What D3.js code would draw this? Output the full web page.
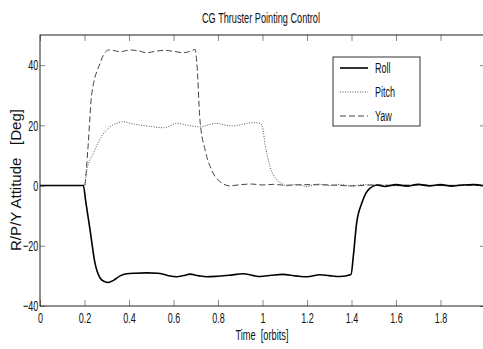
<!DOCTYPE html>
<html>
<head>
<meta charset="utf-8">
<script src="https://cdn.jsdelivr.net/npm/d3@7"></script>
<style>
  body { margin: 0; background: #fff; }
  text { font-family: "Liberation Sans", Arial, sans-serif; }
</style>
</head>
<body>
<svg id="chart"></svg>
<script>
// values (time in orbits, attitude in deg)
const rollT = [0, 0.195, 0.205, 0.225, 0.247, 0.27, 0.29, 0.306, 0.33, 0.36, 0.39, 0.427, 0.48, 0.53, 0.57, 0.615, 0.645, 0.674, 0.71, 0.75, 0.8, 0.85, 0.913, 0.96, 0.989, 1.04, 1.09, 1.15, 1.2, 1.258, 1.3, 1.348, 1.398, 1.408, 1.423, 1.446, 1.465, 1.483, 1.515, 1.55, 1.6, 1.65, 1.7, 1.75, 1.8, 1.85, 1.9, 1.95, 2.0];
const rollV = [0, 0, -5, -14.7, -25.7, -30.7, -31.9, -32.2, -31.5, -30.0, -29.3, -29.1, -29.0, -29.1, -29.8, -30.3, -29.9, -29.4, -29.9, -30.3, -30.1, -29.8, -29.3, -29.9, -30.2, -29.8, -29.5, -30.0, -30.3, -29.6, -29.9, -30.2, -29.5, -23.6, -12.5, -5.9, -2.5, -0.9, 0.2, -0.3, 0.3, -0.2, 0.4, -0.1, 0.3, -0.2, 0.2, 0.3, -0.1];

const pitchT = [0, 0.2, 0.21, 0.24, 0.27, 0.315, 0.345, 0.374, 0.41, 0.449, 0.5, 0.554, 0.585, 0.614, 0.665, 0.719, 0.755, 0.794, 0.83, 0.868, 0.91, 0.958, 0.989, 1.0, 1.011, 1.034, 1.064, 1.09, 1.109, 1.15, 1.2, 1.25, 1.3, 1.35, 1.4, 1.45, 1.5, 1.6, 1.7, 1.8, 1.9, 2.0];
const pitchV = [0, 0, 5, 10.7, 15.5, 19.5, 20.7, 21.2, 20.6, 20.1, 19.6, 19.2, 19.8, 20.7, 20.0, 19.5, 20.1, 20.7, 20.1, 19.8, 20.3, 20.9, 20.7, 19.5, 14, 6.3, 1.9, 0.6, -0.1, 0.4, -0.3, 0.5, 0, 0.4, -0.2, 0.3, 0.2, -0.1, 0.2, 0, 0.2, 0];

const yawT = [0, 0.2, 0.215, 0.232, 0.27, 0.285, 0.307, 0.335, 0.36, 0.385, 0.412, 0.445, 0.479, 0.52, 0.555, 0.6, 0.644, 0.675, 0.697, 0.705, 0.719, 0.742, 0.771, 0.809, 0.854, 0.9, 0.95, 1.0, 1.05, 1.1, 1.2, 1.3, 1.4, 1.5, 1.6, 1.7, 1.8, 1.9, 2.0];
const yawV = [0, 0, 12, 30, 40.6, 43.3, 45, 44.8, 44.4, 44.8, 45, 44.7, 44.1, 44.6, 44.9, 44.6, 44.1, 44.6, 45.2, 40.6, 21.8, 11.8, 5.2, 1.3, -0.1, 0.3, 0.5, 0.2, 0.4, 0.1, 0.3, 0.2, -0.1, 0.2, 0.1, 0.2, 0, 0.1, 0];

const seriesNames = ["Roll", "Pitch", "Yaw"];
const xTicks = [0, 0.2, 0.4, 0.6, 0.8, 1, 1.2, 1.4, 1.6, 1.8, 2];
const yTicks = [-40, -20, 0, 20, 40];

const W = 483, H = 349;
const svg = d3.select("#chart").attr("width", W).attr("height", H);

const x = d3.scaleLinear().domain([0, 2]).range([40, 485]);
const y = d3.scaleLinear().domain([-40, 50]).range([306, 35]);

const squeeze = 0.6; // picture text is horizontally squashed

// ticks (inward, on all four sides)
function styleAxis(g) {
  g.select(".domain").remove();
  g.selectAll(".tick line").attr("stroke", "#888");
  g.selectAll(".tick text")
    .attr("fill", "#111")
    .style("font-size", "15px")
    .attr("transform", `scale(${squeeze},1)`);
}

svg.append("g")
  .attr("transform", "translate(0,306)")
  .call(d3.axisBottom(x).tickValues(xTicks).tickFormat(d3.format("~g"))
    .tickSizeInner(-6).tickSizeOuter(0).tickPadding(6))
  .call(styleAxis);

svg.append("g")
  .attr("transform", "translate(0,35)")
  .call(d3.axisTop(x).tickValues(xTicks).tickFormat("")
    .tickSizeInner(-6).tickSizeOuter(0))
  .call(styleAxis);

svg.append("g")
  .attr("transform", "translate(40,0)")
  .call(d3.axisLeft(y).tickValues(yTicks).tickFormat(d3.format("~g"))
    .tickSizeInner(-5).tickSizeOuter(0).tickPadding(3))
  .call(styleAxis);

svg.append("g")
  .attr("transform", "translate(485,0)")
  .call(d3.axisRight(y).tickValues(yTicks).tickFormat("")
    .tickSizeInner(-5).tickSizeOuter(0))
  .call(styleAxis);

// frame
svg.append("rect")
  .attr("x", x(0)).attr("y", y(50))
  .attr("width", x(2) - x(0)).attr("height", y(-40) - y(50))
  .attr("fill", "none").attr("stroke", "#222").attr("stroke-width", 1);

// lines
const line = d3.line().x(d => x(d[0])).y(d => y(d[1])).curve(d3.curveMonotoneX);
const series = [
  { name: "Roll",  pts: d3.zip(rollT, rollV),   color: "#000", width: 1.6, dash: null },
  { name: "Pitch", pts: d3.zip(pitchT, pitchV), color: "#555", width: 1,   dash: "1,1.5" },
  { name: "Yaw",   pts: d3.zip(yawT, yawV),     color: "#444", width: 1,   dash: "6,3" }
];

svg.selectAll(".series")
  .data(series.slice().reverse())
  .enter().append("path")
  .attr("class", "series")
  .attr("d", d => line(d.pts))
  .attr("fill", "none")
  .attr("stroke", d => d.color)
  .attr("stroke-width", d => d.width)
  .attr("stroke-dasharray", d => d.dash);

// legend
const lg = svg.append("g");
lg.append("rect")
  .attr("x", 333).attr("y", 57).attr("width", 87).attr("height", 69)
  .attr("fill", "#fff").attr("stroke", "#333");

const item = lg.selectAll(".item")
  .data(series)
  .enter().append("g")
  .attr("class", "item")
  .attr("transform", (d, i) => `translate(0,${68 + i * 24})`);

item.append("line")
  .attr("x1", 340).attr("x2", 368)
  .attr("stroke", d => d.color)
  .attr("stroke-width", d => d.width)
  .attr("stroke-dasharray", d => d.dash);

item.append("text")
  .attr("transform", `translate(375,0) scale(${squeeze},1)`)
  .attr("dy", "0.35em")
  .style("font-size", "15px")
  .attr("fill", "#111")
  .text((d, i) => seriesNames[i]);

// title and axis labels
svg.append("text")
  .attr("x", 261).attr("y", 23)
  .attr("text-anchor", "middle")
  .attr("textLength", 118).attr("lengthAdjust", "spacingAndGlyphs")
  .style("font-size", "14px")
  .attr("fill", "#111")
  .text("CG Thruster Pointing Control");

svg.append("text")
  .attr("x", 262).attr("y", 340)
  .attr("text-anchor", "middle")
  .attr("textLength", 53).attr("lengthAdjust", "spacingAndGlyphs")
  .style("font-size", "14px")
  .style("white-space", "pre")
  .attr("fill", "#111")
  .text("Time  [orbits]");

svg.append("text")
  .attr("transform", "translate(21,180) rotate(-90)")
  .attr("text-anchor", "middle")
  .attr("textLength", 142).attr("lengthAdjust", "spacingAndGlyphs")
  .style("font-size", "14px")
  .style("white-space", "pre")
  .attr("fill", "#111")
  .text("R/P/Y Attitude   [Deg]");
</script>
</body>
</html>
